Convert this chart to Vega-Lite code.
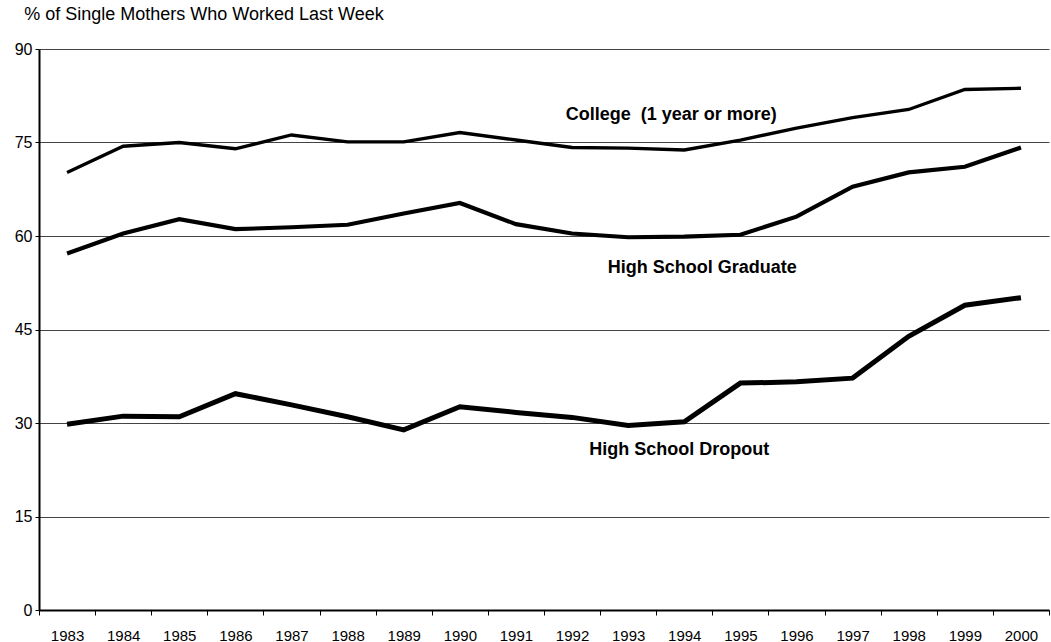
{
  "$schema": "https://vega.github.io/schema/vega-lite/v6.json",
  "width": 1010,
  "height": 561,
  "autosize": {"type": "none"},
  "padding": {"left": 39, "top": 49, "right": 2, "bottom": 32},
  "background": "white",
  "config": {"view": {"stroke": null}, "font": "Liberation Sans"},
  "title": {
    "text": "% of Single Mothers Who Worked Last Week",
    "anchor": "start",
    "dx": 10,
    "offset": 17,
    "fontSize": 18,
    "fontWeight": "normal",
    "font": "Liberation Sans",
    "color": "black"
  },
  "datasets": {
    "series": [
      {"year": "1983", "series": "College", "value": 70.2},
      {"year": "1984", "series": "College", "value": 74.4},
      {"year": "1985", "series": "College", "value": 75.0},
      {"year": "1986", "series": "College", "value": 74.0},
      {"year": "1987", "series": "College", "value": 76.2},
      {"year": "1988", "series": "College", "value": 75.1},
      {"year": "1989", "series": "College", "value": 75.1},
      {"year": "1990", "series": "College", "value": 76.6},
      {"year": "1991", "series": "College", "value": 75.4},
      {"year": "1992", "series": "College", "value": 74.2},
      {"year": "1993", "series": "College", "value": 74.1},
      {"year": "1994", "series": "College", "value": 73.8},
      {"year": "1995", "series": "College", "value": 75.4},
      {"year": "1996", "series": "College", "value": 77.3},
      {"year": "1997", "series": "College", "value": 79.0},
      {"year": "1998", "series": "College", "value": 80.3},
      {"year": "1999", "series": "College", "value": 83.5},
      {"year": "2000", "series": "College", "value": 83.7},
      {"year": "1983", "series": "Graduate", "value": 57.2},
      {"year": "1984", "series": "Graduate", "value": 60.4},
      {"year": "1985", "series": "Graduate", "value": 62.7},
      {"year": "1986", "series": "Graduate", "value": 61.1},
      {"year": "1987", "series": "Graduate", "value": 61.4},
      {"year": "1988", "series": "Graduate", "value": 61.8},
      {"year": "1989", "series": "Graduate", "value": 63.6},
      {"year": "1990", "series": "Graduate", "value": 65.3},
      {"year": "1991", "series": "Graduate", "value": 61.9},
      {"year": "1992", "series": "Graduate", "value": 60.4},
      {"year": "1993", "series": "Graduate", "value": 59.8},
      {"year": "1994", "series": "Graduate", "value": 59.9},
      {"year": "1995", "series": "Graduate", "value": 60.2},
      {"year": "1996", "series": "Graduate", "value": 63.1},
      {"year": "1997", "series": "Graduate", "value": 67.9},
      {"year": "1998", "series": "Graduate", "value": 70.2},
      {"year": "1999", "series": "Graduate", "value": 71.1},
      {"year": "2000", "series": "Graduate", "value": 74.2},
      {"year": "1983", "series": "Dropout", "value": 29.8},
      {"year": "1984", "series": "Dropout", "value": 31.1},
      {"year": "1985", "series": "Dropout", "value": 31.0},
      {"year": "1986", "series": "Dropout", "value": 34.7},
      {"year": "1987", "series": "Dropout", "value": 32.9},
      {"year": "1988", "series": "Dropout", "value": 31.0},
      {"year": "1989", "series": "Dropout", "value": 28.9},
      {"year": "1990", "series": "Dropout", "value": 32.6},
      {"year": "1991", "series": "Dropout", "value": 31.7},
      {"year": "1992", "series": "Dropout", "value": 30.9},
      {"year": "1993", "series": "Dropout", "value": 29.6},
      {"year": "1994", "series": "Dropout", "value": 30.2},
      {"year": "1995", "series": "Dropout", "value": 36.4},
      {"year": "1996", "series": "Dropout", "value": 36.6},
      {"year": "1997", "series": "Dropout", "value": 37.2},
      {"year": "1998", "series": "Dropout", "value": 43.9},
      {"year": "1999", "series": "Dropout", "value": 48.9},
      {"year": "2000", "series": "Dropout", "value": 50.1}
    ],
    "labels": [
      {"year": "1994", "series": "College", "value": 79.4, "label": "College \u00a0(1 year or more)"},
      {"year": "1994", "series": "Graduate", "value": 54.9, "label": "High School Graduate"},
      {"year": "1994", "series": "Dropout", "value": 25.7, "label": "High School Dropout"}
    ]
  },
  "encoding": {
    "x": {
      "field": "year",
      "type": "ordinal",
      "bandPosition": 0.5,
      "scale": {"type": "band", "paddingInner": 0, "paddingOuter": 0},
      "axis": {
        "title": null,
        "labelAngle": 0,
        "tickBand": "extent",
        "tickSize": 5,
        "tickColor": "black",
        "domainColor": "black",
        "domainWidth": 2,
        "labelFontSize": 15,
        "labelColor": "black",
        "labelFont": "Liberation Sans",
        "labelPadding": 13,
        "grid": false
      }
    },
    "y": {
      "field": "value",
      "type": "quantitative",
      "scale": {"domain": [0, 90], "nice": false, "zero": true},
      "axis": {
        "title": null,
        "values": [0, 15, 30, 45, 60, 75, 90],
        "tickSize": 4,
        "tickColor": "black",
        "domainColor": "black",
        "domainWidth": 2,
        "labelFontSize": 16,
        "labelColor": "black",
        "labelFont": "Liberation Sans",
        "labelPadding": 3,
        "grid": true,
        "gridColor": "#444444",
        "gridWidth": 1,
        "gridOpacity": 1
      }
    }
  },
  "layer": [
    {
      "data": {"name": "series"},
      "mark": {"type": "line", "color": "black", "strokeCap": "butt", "strokeJoin": "miter"},
      "encoding": {
        "detail": {"field": "series", "type": "nominal"},
        "strokeWidth": {
          "field": "series",
          "type": "nominal",
          "scale": {"domain": ["College", "Graduate", "Dropout"], "range": [3.3, 5, 5.2]},
          "legend": null
        }
      }
    },
    {
      "data": {"name": "labels"},
      "transform": [{"filter": "datum.series === 'College'"}],
      "mark": {"type": "text", "fontSize": 18, "fontWeight": "bold", "font": "Liberation Sans", "color": "black", "align": "center", "baseline": "middle", "dx": -13},
      "encoding": {"text": {"field": "label"}}
    },
    {
      "data": {"name": "labels"},
      "transform": [{"filter": "datum.series === 'Graduate'"}],
      "mark": {"type": "text", "fontSize": 18, "fontWeight": "bold", "font": "Liberation Sans", "color": "black", "align": "center", "baseline": "middle", "dx": 18},
      "encoding": {"text": {"field": "label"}}
    },
    {
      "data": {"name": "labels"},
      "transform": [{"filter": "datum.series === 'Dropout'"}],
      "mark": {"type": "text", "fontSize": 18, "fontWeight": "bold", "font": "Liberation Sans", "color": "black", "align": "center", "baseline": "middle", "dx": -5},
      "encoding": {"text": {"field": "label"}}
    }
  ]
}
